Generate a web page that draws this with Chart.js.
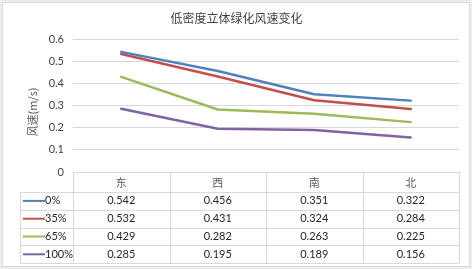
<!DOCTYPE html>
<html>
<head>
<meta charset="utf-8">
<script src="https://cdn.jsdelivr.net/npm/chart.js@4"></script>
<style>
  html, body { margin: 0; padding: 0; background: #ececec; }
  #wrap { width: 472px; height: 269px; }
</style>
</head>
<body>
<div id="wrap"><canvas id="grafico" width="472" height="269"></canvas></div>
<script>
/* datos */
const CATEGORIAS = ["东", "西", "南", "北"];
const SERIES = ["0%", "35%", "65%", "100%"];
const VAL_0 = [0.542, 0.456, 0.351, 0.322];
const VAL_35 = [0.532, 0.431, 0.324, 0.284];
const VAL_65 = [0.429, 0.282, 0.263, 0.225];
const VAL_100 = [0.285, 0.195, 0.189, 0.156];
const COLORES = ["#4F81BD", "#C0504D", "#9BBB59", "#8064A2"];

const TITULO = "低密度立体绿化风速变化";
const TITULO_Y = "风速(m/s)";

const FUENTE_NUM = "Lato, 'Open Sans', sans-serif";
const FUENTE_CJK = "'Noto Sans CJK SC', sans-serif";

/* fondo, titulos y tabla de datos bajo el eje */
const tablaPlugin = {
    id: "tablaDatos",
    beforeDraw(chart) {
        const c = chart.ctx;
        c.save();
        c.fillStyle = "#ececec";
        c.fillRect(0, 0, chart.width, chart.height);
        c.fillStyle = "#ffffff";
        c.fillRect(2.5, 2.5, chart.width - 5, chart.height - 5);
        c.strokeStyle = "#d9d9d9";
        c.lineWidth = 1;
        c.strokeRect(2.5, 2.5, chart.width - 5, chart.height - 5);
        c.restore();
    },
    afterDraw(chart) {
        const c = chart.ctx;
        const x = chart.scales.x;
        const area = chart.chartArea;
        const valores = chart.data.datasets.map(d => d.data);

        c.save();

        // titulo
        c.fillStyle = "#404040";
        c.font = "12px " + FUENTE_CJK;
        c.textAlign = "center";
        c.textBaseline = "middle";
        c.fillText(TITULO, 236.5, 18);

        // titulo eje y
        c.save();
        c.translate(33, 112);
        c.rotate(-Math.PI / 2);
        c.fillStyle = "#595959";
        c.font = "11px " + FUENTE_CJK;
        c.fillText(TITULO_Y, 0, 0);
        c.restore();

        // tabla
        const top = area.bottom;
        const filaCab = 20;
        const filaAlto = 17.8;
        const izq = 20;
        const der = area.right;
        const bordes = [];
        for (let i = 0; i <= CATEGORIAS.length; i++) {
            bordes.push(area.left + (area.right - area.left) * i / CATEGORIAS.length);
        }
        const fondo = top + filaCab + filaAlto * SERIES.length;

        c.strokeStyle = "#d9d9d9";
        c.lineWidth = 1;
        c.beginPath();
        // linea superior y cabecera
        c.moveTo(area.left, top + 0.5);
        c.lineTo(der, top + 0.5);
        for (let r = 0; r <= SERIES.length; r++) {
            const y = Math.round(top + filaCab + filaAlto * r) + 0.5;
            c.moveTo(izq, y);
            c.lineTo(der, y);
        }
        for (const b of bordes) {
            c.moveTo(Math.round(b) + 0.5, top);
            c.lineTo(Math.round(b) + 0.5, fondo);
        }
        c.moveTo(izq + 0.5, top + filaCab);
        c.lineTo(izq + 0.5, fondo);
        c.stroke();

        // cabecera
        c.fillStyle = "#595959";
        c.font = "11px " + FUENTE_CJK;
        c.textAlign = "center";
        CATEGORIAS.forEach((cat, i) => {
            c.fillText(cat, x.getPixelForValue(i), top + filaCab / 2 + 1);
        });

        // filas
        SERIES.forEach((nombre, r) => {
            const yc = top + filaCab + filaAlto * r + filaAlto / 2;
            c.strokeStyle = COLORES[r];
            c.lineWidth = 2;
            c.beginPath();
            c.moveTo(23, yc);
            c.lineTo(45, yc);
            c.stroke();

            c.fillStyle = "#262626";
            c.font = "11px " + FUENTE_NUM;
            c.textAlign = "left";
            c.fillText(nombre, 45, yc);

            c.textAlign = "center";
            valores[r].forEach((v, i) => {
                c.fillText(v.toFixed(3), x.getPixelForValue(i), yc);
            });
        });

        c.restore();
    }
};

function serie(label, data, color) {
    return {
        label,
        data,
        borderColor: color,
        backgroundColor: color,
        borderWidth: 2.5,
        pointRadius: 0,
        tension: 0,
        borderCapStyle: "round",
        borderJoinStyle: "round"
    };
}

new Chart(document.getElementById("grafico"), {
    type: "line",
    data: {
        labels: CATEGORIAS,
        datasets: [
            serie(SERIES[0], VAL_0, COLORES[0]),
            serie(SERIES[1], VAL_35, COLORES[1]),
            serie(SERIES[2], VAL_65, COLORES[2]),
            serie(SERIES[3], VAL_100, COLORES[3])
        ]
    },
    options: {
        responsive: false,
        animation: false,
        devicePixelRatio: 1,
        layout: { padding: { top: 39, right: 13, bottom: 97, left: 0 } },
        plugins: {
            legend: { display: false },
            tooltip: { enabled: false }
        },
        scales: {
            x: {
                type: "category",
                offset: true,
                display: false
            },
            y: {
                min: 0,
                max: 0.6,
                afterFit(scale) { scale.width = 73; },
                border: { display: false },
                grid: {
                    color: "#d9d9d9",
                    drawTicks: false,
                    lineWidth: 1
                },
                ticks: {
                    stepSize: 0.1,
                    padding: 9,
                    color: "#404040",
                    font: { family: FUENTE_NUM, size: 11 },
                    callback: v => String(Math.round(v * 10) / 10)
                }
            }
        }
    },
    plugins: [tablaPlugin]
});
</script>
</body>
</html>
